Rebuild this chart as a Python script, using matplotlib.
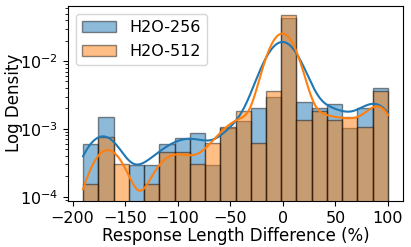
import matplotlib
matplotlib.use('Agg')
import matplotlib.pyplot as plt
import numpy as np
import seaborn as sns

# histogram bins (response length difference, %)
bin_edges = [-190, -175.5, -161, -146.5, -132, -117.5, -103, -88.5, -74, -59.5,
             -45, -30.5, -16, -1.5, 13, 27.5, 42, 56.5, 71, 85.5, 100]
# representative value for the samples in each bin
bin_values = [-182.75, -168.25, -153.75, -139.25, -124.75, -110.25, -95.75, -81.25,
              -66.75, -52.25, -37.75, -23.25, -8.75, 0.0, 20.25, 34.75, 49.25,
              63.75, 78.25, 92.75]
# counts per bin
counts_256 = [4, 10, 0, 2, 2, 4, 5, 6, 2, 7, 9, 14, 20, 288, 17, 14, 16, 7, 14, 27]
counts_512 = [1, 5, 2, 0, 1, 3, 3, 2, 4, 7, 12, 4, 24, 314, 9, 12, 9, 10, 7, 24]

data_256 = np.repeat(bin_values, counts_256)
data_512 = np.repeat(bin_values, counts_512)

plt.rcParams['font.size'] = 12

fig = plt.figure(figsize=(4.11, 2.47), dpi=100)
ax = fig.add_axes([0.165, 0.187, 0.816, 0.789])

kde_kws = dict(cut=3, clip=(-190, 100))
sns.histplot(x=data_256, bins=bin_edges, stat='density', kde=True, color='tab:blue',
             alpha=0.5, edgecolor=(0, 0, 0, 0.45), linewidth=1.0,
             kde_kws=kde_kws, label='H2O-256', ax=ax)
sns.histplot(x=data_512, bins=bin_edges, stat='density', kde=True, color='tab:orange',
             alpha=0.5, edgecolor=(0, 0, 0, 0.45), linewidth=1.0,
             kde_kws=kde_kws, label='H2O-512', ax=ax)

ax.set_yscale('log')
ax.set_ylim(8.7e-5, 0.065)
ax.set_xlim(-204.5, 114.5)
ax.set_xticks([-200, -150, -100, -50, 0, 50, 100])
ax.tick_params(labelsize=11.5)
ax.set_xlabel('Response Length Difference (%)', labelpad=1)
ax.set_ylabel('Log Density')
ax.yaxis.set_label_coords(-0.133, 0.5)
ax.legend(loc='upper left', fontsize=11.5, handlelength=2.1, handletextpad=0.85,
          labelspacing=0.55)

fig.savefig('out.png', dpi=100)
